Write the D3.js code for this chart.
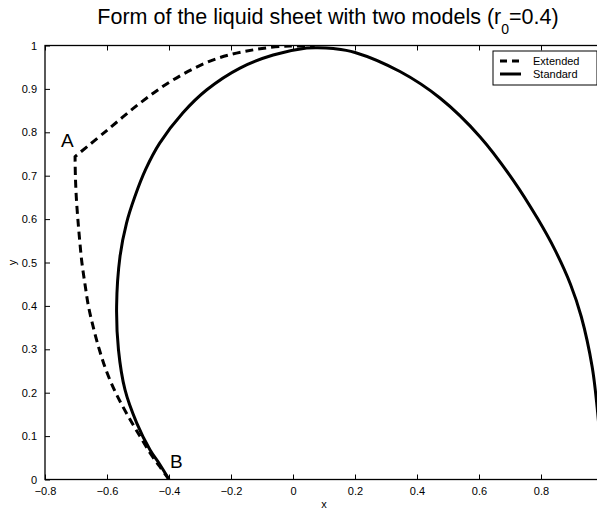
<!DOCTYPE html>
<html>
<head>
<meta charset="utf-8">
<script src="https://cdn.jsdelivr.net/npm/d3@7"></script>
<style>
  html, body { margin: 0; padding: 0; background: #fff; }
  svg { display: block; font-family: "Liberation Sans", Arial, Helvetica, sans-serif; }
</style>
</head>
<body>
<div id="chart"></div>
<script>
// Extended model (dashed): lower branch from B up to the corner A
const extLowX = [-0.400, -0.430, -0.460, -0.494, -0.535, -0.572, -0.602, -0.625, -0.644, -0.660, -0.671, -0.681, -0.688, -0.694, -0.699, -0.702, -0.703];
const extLowY = [0.000, 0.030, 0.060, 0.100, 0.150, 0.200, 0.250, 0.300, 0.350, 0.400, 0.450, 0.500, 0.550, 0.600, 0.650, 0.700, 0.744];
// Extended model (dashed): upper branch from A over the top
const extTopX = [-0.703, -0.601, -0.494, -0.386, -0.257, -0.128, -0.010, 0.070];
const extTopY = [0.744, 0.804, 0.867, 0.921, 0.967, 0.990, 0.999, 0.997];

// Standard model (solid)
const standardX = [-0.400, -0.430, -0.461, -0.504, -0.542, -0.563, -0.569, -0.558, -0.537, -0.510, -0.475, -0.430, -0.355, -0.278,
  -0.171, -0.064, 0.044, 0.080, 0.130, 0.200, 0.345, 0.474, 0.603, 0.710, 0.790, 0.845, 0.895, 0.930, 0.965, 0.981, 0.995];
const standardY = [0.000, 0.035, 0.068, 0.130, 0.207, 0.299, 0.399, 0.514, 0.591, 0.652, 0.715, 0.775, 0.845, 0.898,
  0.948, 0.978, 0.994, 0.995, 0.993, 0.984, 0.940, 0.879, 0.790, 0.690, 0.600, 0.529, 0.450, 0.375, 0.260, 0.167, 0.050];

const xTicks = [-0.8, -0.6, -0.4, -0.2, 0, 0.2, 0.4, 0.6, 0.8, 1];
const xTickLabels = ['\u22120.8', '\u22120.6', '\u22120.4', '\u22120.2', '0', '0.2', '0.4', '0.6', '0.8', ''];
const yTicks = [0, 0.1, 0.2, 0.3, 0.4, 0.5, 0.6, 0.7, 0.8, 0.9, 1];
const yTickLabels = ['0', '0.1', '0.2', '0.3', '0.4', '0.5', '0.6', '0.7', '0.8', '0.9', '1'];

const seriesNames = ['Extended', 'Standard'];

const W = 597, H = 511;
const margin = { top: 45.5, left: 45, right: -6, bottom: 31.5 };
const innerW = W - margin.left - margin.right;
const innerH = H - margin.top - margin.bottom;

const svg = d3.select('#chart').append('svg')
  .attr('width', W)
  .attr('height', H);

svg.append('rect').attr('width', W).attr('height', H).attr('fill', '#fff');

const g = svg.append('g')
  .attr('transform', `translate(${margin.left},${margin.top})`);

const x = d3.scaleLinear().domain([-0.8, 1]).range([0, innerW]);
const y = d3.scaleLinear().domain([0, 1]).range([innerH, 0]);

g.append('clipPath').attr('id', 'clip')
  .append('rect').attr('width', innerW).attr('height', innerH);

// Axes (ticks point inward, box on all sides)
function styleAxis(sel) {
  sel.select('.domain').remove();
  sel.selectAll('.tick line').attr('stroke', '#000').attr('stroke-width', 1);
  sel.selectAll('.tick text').attr('fill', '#000').attr('font-size', '11px');
}

g.append('g')
  .attr('transform', `translate(0,${innerH})`)
  .call(d3.axisBottom(x).tickValues(xTicks).tickFormat((d, i) => xTickLabels[i]).tickSizeInner(-5).tickSizeOuter(0).tickPadding(8))
  .call(styleAxis);

g.append('g')
  .call(d3.axisTop(x).tickValues(xTicks).tickFormat('').tickSizeInner(-5).tickSizeOuter(0))
  .call(styleAxis);

g.append('g')
  .call(d3.axisLeft(y).tickValues(yTicks).tickFormat((d, i) => yTickLabels[i]).tickSizeInner(-5).tickSizeOuter(0).tickPadding(8))
  .call(styleAxis);

g.append('g')
  .attr('transform', `translate(${innerW},0)`)
  .call(d3.axisRight(y).tickValues(yTicks).tickFormat('').tickSizeInner(-5).tickSizeOuter(0))
  .call(styleAxis);

g.append('rect')
  .attr('width', innerW)
  .attr('height', innerH)
  .attr('fill', 'none')
  .attr('stroke', '#000')
  .attr('stroke-width', 1.3);

// Curves
const line = d3.line()
  .x(d => x(d[0]))
  .y(d => y(d[1]))
  .curve(d3.curveCatmullRom.alpha(0.5));

const extLow = extLowX.map((v, i) => [v, extLowY[i]]);
const extTop = extTopX.map((v, i) => [v, extTopY[i]]);
const standard = standardX.map((v, i) => [v, standardY[i]]);

const curves = g.append('g').attr('clip-path', 'url(#clip)');

// one continuous path so the dash pattern runs on through the corner at A
curves.append('path')
  .attr('fill', 'none')
  .attr('stroke', '#000')
  .attr('stroke-width', 3)
  .attr('stroke-dasharray', '8,5')
  .attr('d', line(extLow) + line(extTop).replace(/^M/, 'L'));

curves.append('path')
  .datum(standard)
  .attr('fill', 'none')
  .attr('stroke', '#000')
  .attr('stroke-width', 3)
  .attr('d', line);

// Point labels
g.append('text')
  .attr('x', x(-0.748))
  .attr('y', y(0.767))
  .attr('font-size', '19px')
  .text('A');

g.append('text')
  .attr('x', x(-0.397))
  .attr('y', y(0.027))
  .attr('font-size', '19px')
  .text('B');

// Legend
const legend = svg.append('g').attr('transform', 'translate(493,51)');
legend.append('rect')
  .attr('width', 104)
  .attr('height', 34)
  .attr('fill', '#fff')
  .attr('stroke', '#000')
  .attr('stroke-width', 1);

seriesNames.forEach((name, i) => {
  const ly = 10 + i * 13;
  legend.append('line')
    .attr('x1', 7).attr('x2', 28)
    .attr('y1', ly).attr('y2', ly)
    .attr('stroke', '#000')
    .attr('stroke-width', 3)
    .attr('stroke-dasharray', i === 0 ? '7,5' : null);
  legend.append('text')
    .attr('x', 40)
    .attr('y', ly + 4)
    .attr('font-size', '11px')
    .text(name);
});

// Axis labels
svg.append('text')
  .attr('x', margin.left + innerW / 2)
  .attr('y', 508)
  .attr('text-anchor', 'middle')
  .attr('font-size', '11px')
  .text('x');

svg.append('text')
  .attr('transform', `translate(16,${margin.top + innerH / 2}) rotate(-90)`)
  .attr('text-anchor', 'middle')
  .attr('font-size', '11px')
  .text('y');

// Title
const title = svg.append('text')
  .attr('x', margin.left + innerW / 2 + 4)
  .attr('y', 24)
  .attr('text-anchor', 'middle')
  .attr('font-size', '21.5px');
title.append('tspan').text('Form of the liquid sheet with two models (r');
title.append('tspan').attr('font-size', '14px').attr('dy', 10).text('0');
title.append('tspan').attr('dy', -10).text('=0.4)');
</script>
</body>
</html>
